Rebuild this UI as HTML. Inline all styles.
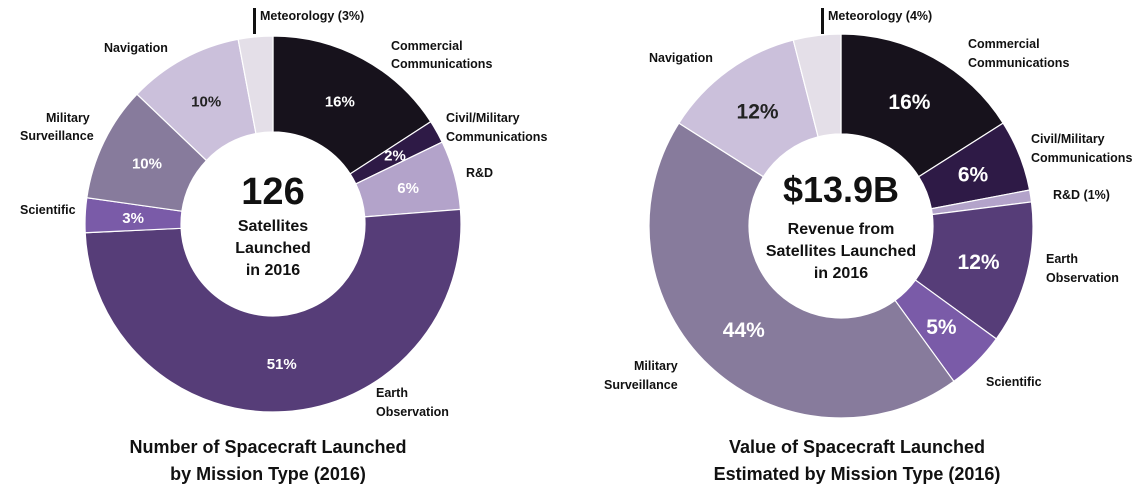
<!DOCTYPE html>
<html><head><meta charset="utf-8"><style>
html,body{margin:0;padding:0;background:#fff;width:1146px;height:497px;overflow:hidden}
svg text{font-family:"Liberation Sans",Arial,sans-serif;font-weight:bold}
</style></head><body>
<svg id="chart" width="1146" height="497">
<g id="left"></g>
<g id="right"></g>
<g font-size="12.5" fill="#111">
<rect x="253" y="8" width="3" height="26" fill="#111"/>
<text x="260" y="20">Meteorology (3%)</text>
<text x="104" y="52">Navigation</text>
<text x="391" y="50">Commercial</text><text x="391" y="68">Communications</text>
<text x="446" y="122">Civil/Military</text><text x="446" y="141">Communications</text>
<text x="466" y="177">R&amp;D</text>
<text x="46" y="122">Military</text><text x="20" y="140">Surveillance</text>
<text x="20" y="214">Scientific</text>
<text x="376" y="397">Earth</text><text x="376" y="416">Observation</text>
<rect x="821" y="8" width="3" height="26" fill="#111"/>
<text x="828" y="20">Meteorology (4%)</text>
<text x="649" y="62">Navigation</text>
<text x="968" y="48">Commercial</text><text x="968" y="67">Communications</text>
<text x="1031" y="143">Civil/Military</text><text x="1031" y="162">Communications</text>
<text x="1053" y="199">R&amp;D (1%)</text>
<text x="1046" y="263">Earth</text><text x="1046" y="282">Observation</text>
<text x="986" y="386">Scientific</text>
<text x="634" y="370">Military</text><text x="604" y="389">Surveillance</text>
</g>
<g text-anchor="middle" fill="#111">
<text x="273" y="204" font-size="38">126</text>
<text x="273" y="231" font-size="16">Satellites</text>
<text x="273" y="253" font-size="16">Launched</text>
<text x="273" y="275" font-size="16">in 2016</text>
<text x="841" y="202" font-size="36">$13.9B</text>
<text x="841" y="234" font-size="16">Revenue from</text>
<text x="841" y="256" font-size="16">Satellites Launched</text>
<text x="841" y="278" font-size="16">in 2016</text>
</g>
<g text-anchor="middle" fill="#111" font-size="18">
<text x="268" y="453">Number of Spacecraft Launched</text>
<text x="268" y="480">by Mission Type (2016)</text>
<text x="857" y="453">Value of Spacecraft Launched</text>
<text x="857" y="480">Estimated by Mission Type (2016)</text>
</g>
</svg>
<script>
const categories = ["Commercial Communications","Civil/Military Communications","R&D","Earth Observation","Scientific","Military Surveillance","Navigation","Meteorology"];
const launchShares = [16,2,6,51,3,10,10,3];
const revenueShares = [16,6,1,12,5,44,12,4];
const colors = ["#17121c","#2e1a46","#b3a3ca","#563d78","#7a5ba8","#877b9c","#cbc0db","#e4dfe8"];
const textColors = ["#fff","#fff","#fff","#fff","#fff","#fff","#222","#222"];
const NS="http://www.w3.org/2000/svg";
function donut(gid, vals, cx, cy, R, r, fs, showSmall){
  const g=document.getElementById(gid);
  const tot=vals.reduce((a,b)=>a+b,0);
  let a0=0;
  vals.forEach((v,i)=>{
    const a1=a0+v/tot*2*Math.PI;
    const p=(a,rr)=>[cx+rr*Math.sin(a),cy-rr*Math.cos(a)];
    const [x1,y1]=p(a0,R),[x2,y2]=p(a1,R),[x3,y3]=p(a1,r),[x4,y4]=p(a0,r);
    const lg=(a1-a0)>Math.PI?1:0;
    const path=document.createElementNS(NS,"path");
    path.setAttribute("d",`M${x1},${y1}A${R},${R} 0 ${lg} 1 ${x2},${y2}L${x3},${y3}A${r},${r} 0 ${lg} 0 ${x4},${y4}Z`);
    path.setAttribute("fill",colors[i]);
    path.setAttribute("stroke","#fff");
    path.setAttribute("stroke-width","1.2");
    
    
    g.appendChild(path);
    if(v>=2 && !(v<4 && !showSmall && i===7) && i!==7 && !(gid==='right'&&v<2)){
      const am=(a0+a1)/2,[tx,ty]=p(am,(R+r)/2);
      const t=document.createElementNS(NS,"text");
      t.setAttribute("x",tx);t.setAttribute("y",ty+fs*0.36);
      t.setAttribute("text-anchor","middle");
      t.setAttribute("font-size",fs);
      t.setAttribute("fill",textColors[i]);
      t.textContent=v+"%";
      
      
      g.appendChild(t);
    }
    a0=a1;
  });
  const c=document.createElementNS(NS,"circle");
  c.setAttribute("cx",cx);c.setAttribute("cy",cy);c.setAttribute("r",r);c.setAttribute("fill","#fff");
  g.insertBefore(c,g.firstChild);
}
donut("left",launchShares,273,224,188,92,15,true);
donut("right",revenueShares,841,226,192,92,21,true);
</script>
</body></html>
